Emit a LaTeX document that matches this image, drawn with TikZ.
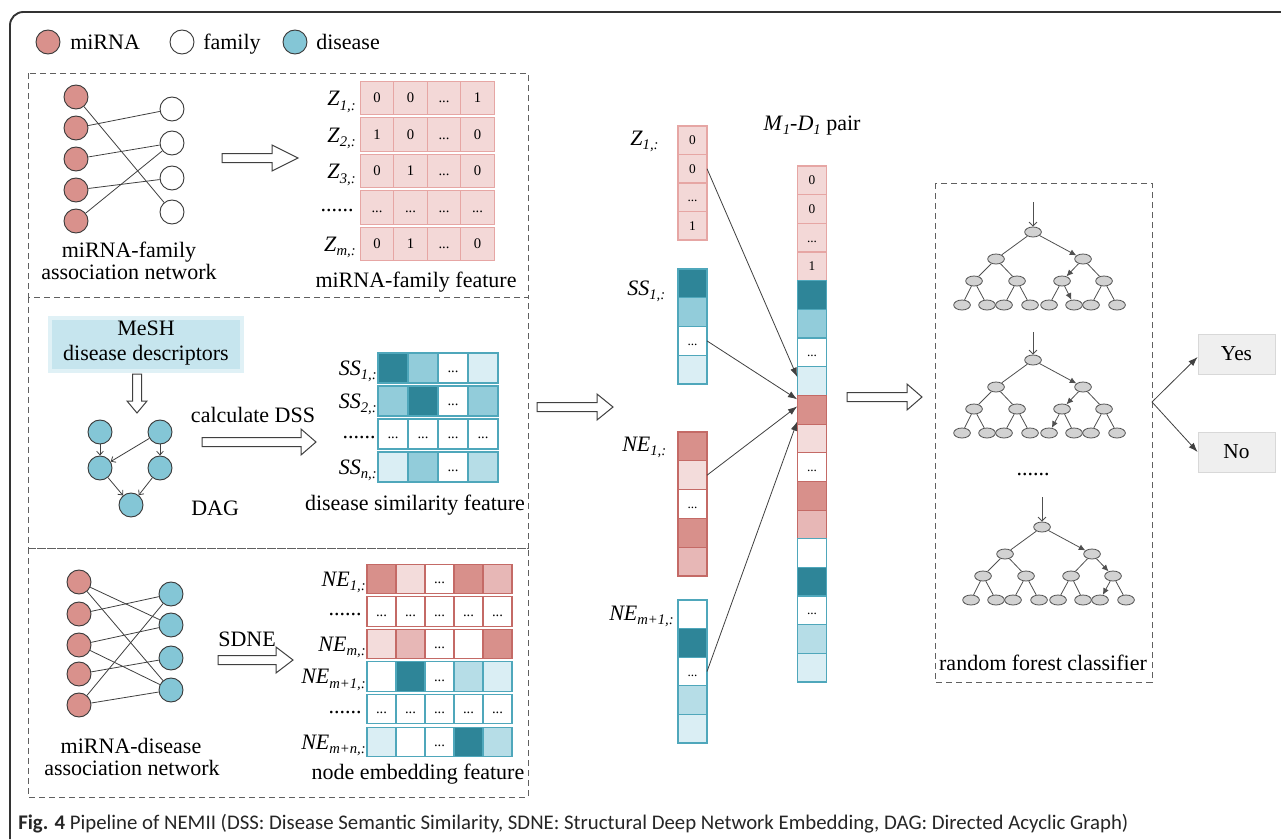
\documentclass[tikz,border=0pt]{standalone}
\usepackage{fontspec}
\setmainfont{Liberation Serif}
\newfontfamily\capfont{Carlito}
\usetikzlibrary{arrows.meta,shapes.geometric}

% palette
\definecolor{framecol}{HTML}{333333}
\definecolor{dashcol}{HTML}{606060}
\definecolor{netline}{HTML}{404040}
\definecolor{ringcol}{HTML}{3A3A3A}
\definecolor{mired}{HTML}{D9918C}
\definecolor{disblue}{HTML}{84C6D6}
\definecolor{zfill}{HTML}{F3D8D7}
\definecolor{zline}{HTML}{E6A6A4}
\definecolor{rdark}{HTML}{D8908B}
\definecolor{rmid}{HTML}{E7B7B6}
\definecolor{rlight}{HTML}{F3DCDB}
\definecolor{rline}{HTML}{C46A66}
\definecolor{tdark}{HTML}{2E8598}
\definecolor{tmid}{HTML}{92CCDA}
\definecolor{tsoft}{HTML}{B6DDE7}
\definecolor{tlight}{HTML}{DAEEF4}
\definecolor{tline}{HTML}{4FA7BB}
\definecolor{meshfill}{HTML}{C6E5EE}
\definecolor{leafgray}{HTML}{D2D2D2}
\definecolor{treeline}{HTML}{505050}
\definecolor{boxgray}{HTML}{EFEFEF}
\definecolor{boxline}{HTML}{D8D8D8}

% italic label with italic subscript
\newcommand{\lbl}[2]{\textit{#1}\raisebox{-0.45ex}{\fontsize{11}{11}\selectfont\textit{#2}}}
% three dots inside a cell (kept out of the loop lists)
\newcommand{\celldots}{...}

% a row of cells: name, x of first centre, y, width, height, border, extra style, fill/text list
\newcommand{\hrow}[8]{%
  \foreach \cellfill/\celltext [count=\ci] in {#8}{%
    \node[cell,#7,draw=#6,fill=\cellfill,minimum width=#4*0.75pt,minimum height=#5*0.75pt]
      (#1-\ci) at ({#2+(\ci-1)*#4},#3) {\celltext};
  }%
}
% a column of cells: name, x, y of first centre, width, height, border, extra style, fill/text list
\newcommand{\vcol}[8]{%
  \foreach \cellfill/\celltext [count=\ci] in {#8}{%
    \node[cell,#7,draw=#6,fill=\cellfill,minimum width=#4*0.75pt,minimum height=#5*0.75pt]
      (#1-\ci) at (#2,{#3+(\ci-1)*#5}) {\celltext};
  }%
}
% outlined block arrows
\newcommand{\hollowright}[4]{%
  \draw[hollow] (#1,{#3-4.5}) -- ({#2-#4},{#3-4.5}) -- ({#2-#4},{#3-13}) -- (#2,#3)
    -- ({#2-#4},{#3+13}) -- ({#2-#4},{#3+4.5}) -- (#1,{#3+4.5}) -- cycle;}
\newcommand{\hollowdown}[4]{%
  \draw[hollow] ({#1-4.5},#2) -- ({#1-4.5},{#3-#4}) -- ({#1-10},{#3-#4}) -- (#1,#3)
    -- ({#1+10},{#3-#4}) -- ({#1+4.5},{#3-#4}) -- ({#1+4.5},#2) -- cycle;}
% decision tree: prefix, root x, root y, styles of r-b, b-ba, b-bb, ba-l5, ba-l6, bb-l7
\newcommand{\rftree}[9]{%
  \node[tnode] (#1r) at (#2,#3) {};
  \node[tnode] (#1a) at ({#2-37},{#3+27}) {};
  \node[tnode] (#1b) at ({#2+50},{#3+27}) {};
  \node[tnode] (#1aa) at ({#2-59},{#3+49}) {};
  \node[tnode] (#1ab) at ({#2-16},{#3+49}) {};
  \node[tnode] (#1ba) at ({#2+29},{#3+49}) {};
  \node[tnode] (#1bb) at ({#2+71},{#3+49}) {};
  \foreach \lx [count=\li] in {-71,-46,-29,-3,16,41,58,84}
    \node[tnode] (#1l\li) at ({#2+(\lx)},{#3+73}) {};
  \draw[tedge] (#1r) -- (#1a);
  \draw[#4] (#1r) -- (#1b);
  \draw[tedge] (#1a) -- (#1aa);
  \draw[tedge] (#1a) -- (#1ab);
  \draw[#5] (#1b) -- (#1ba);
  \draw[#6] (#1b) -- (#1bb);
  \draw[tedge] (#1aa) -- (#1l1);
  \draw[tedge] (#1aa) -- (#1l2);
  \draw[tedge] (#1ab) -- (#1l3);
  \draw[tedge] (#1ab) -- (#1l4);
  \draw[#7] (#1ba) -- (#1l5);
  \draw[#8] (#1ba) -- (#1l6);
  \draw[#9] (#1bb) -- (#1l7);
  \draw[tedge] (#1bb) -- (#1l8);
}

\tikzset{
  txt/.style={font=\fontsize{16.5}{19}\selectfont, inner sep=0pt},
  net/.style={draw=netline, line width=0.6pt},
  mnode/.style={circle, draw=ringcol, line width=0.7pt, fill=mired, minimum size=18pt, inner sep=0pt},
  fnode/.style={mnode, fill=white},
  dnode/.style={mnode, fill=disblue},
  dagarrow/.style={draw=netline, line width=0.6pt, -{Straight Barb[length=2.8pt,width=5pt]}},
  dashbox/.style={draw=dashcol, line width=0.75pt, dash pattern=on 4.5pt off 3pt},
  hollow/.style={draw=netline, line width=0.75pt, fill=white, line join=miter},
  cell/.style={rectangle, inner sep=0pt, outer sep=0pt, line width=0.8pt},
  mcell/.style={font=\fontsize{11}{11}\selectfont, text height=7.4pt, text depth=0pt},
  ccell/.style={font=\fontsize{10}{10}\selectfont, text height=6.8pt, text depth=0pt},
  pairarrow/.style={draw=netline, line width=0.6pt, -{Latex[length=7pt,width=5pt]}},
  tnode/.style={ellipse, draw=treeline, line width=0.6pt, fill=leafgray, minimum width=12.5pt, minimum height=7.5pt, inner sep=0pt},
  tedge/.style={draw=treeline, line width=0.6pt},
  tarr/.style={tedge, -{Latex[length=5pt,width=4.5pt]}},
  rootin/.style={draw=treeline, line width=0.6pt, -{Straight Barb[length=3pt,width=6pt]}},
  answer/.style={rectangle, fill=boxgray, draw=boxline, line width=0.6pt, minimum width=57.75pt, minimum height=30pt, font=\fontsize{16}{19}\selectfont},
}

\begin{document}
\begin{tikzpicture}[x=0.75pt,y=-0.75pt]
\fill[white] (0,0) rectangle (1281,839);
\useasboundingbox (0,0) rectangle (1281,839);

% outer frame
\draw[framecol, line width=1.4pt, rounded corners=10pt] (10,839) -- (10,12) -- (1281,12);

% legend
\node[mnode] (lgm) at (48,42) {};
\node[txt, anchor=base west] (lgmt) at (70,49) {miRNA};
\node[fnode] (lgf) at (182,42) {};
\node[txt, anchor=base west] (lgft) at (203,49) {family};
\node[dnode] (lgd) at (295,42) {};
\node[txt, anchor=base west] (lgdt) at (316,49) {disease};

% ---------- miRNA-family part ----------
\draw[dashbox] (28,73) rectangle (528,297);
\foreach \y [count=\i] in {97,128,159,190,221} \node[mnode] (fm\i) at (76,\y) {};
\foreach \y [count=\i] in {109,143,178,212} \node[fnode] (ff\i) at (172,\y) {};
\draw[net] (fm1) -- (ff4);
\draw[net] (fm2) -- (ff1);
\draw[net] (fm3) -- (ff2);
\draw[net] (fm4) -- (ff3);
\draw[net] (fm5) -- (ff2);
\node[txt, anchor=base] (fnet1) at (129,257) {miRNA-family};
\node[txt, anchor=base] (fnet2) at (129,279) {association network};
\hollowright{222}{298}{158}{26}

\node[txt, anchor=base east] (zl1) at (356,105.5) {\lbl{Z}{1,:}};
\node[txt, anchor=base east] (zl2) at (356,142) {\lbl{Z}{2,:}};
\node[txt, anchor=base east] (zl3) at (356,178.5) {\lbl{Z}{3,:}};
\node[txt, anchor=base east] (zl4) at (354,211) {......};
\node[txt, anchor=base east] (zl5) at (356,251) {\lbl{Z}{m,:}};
\hrow{zr1}{377}{98}{33.5}{33.5}{zline}{mcell}{zfill/0,zfill/0,zfill/\celldots,zfill/1}
\hrow{zr2}{377}{134.5}{33.5}{33.5}{zline}{mcell}{zfill/1,zfill/0,zfill/\celldots,zfill/0}
\hrow{zr3}{377}{171}{33.5}{33.5}{zline}{mcell}{zfill/0,zfill/1,zfill/\celldots,zfill/0}
\hrow{zr4}{377}{207.5}{33.5}{33.5}{zline}{mcell}{zfill/\celldots,zfill/\celldots,zfill/\celldots,zfill/\celldots}
\hrow{zr5}{377}{244}{33.5}{33.5}{zline}{mcell}{zfill/0,zfill/1,zfill/\celldots,zfill/0}
\node[txt, anchor=base] (zfeat) at (416,287) {miRNA-family feature};

% ---------- disease similarity part ----------
\draw[dashbox] (28,297) rectangle (528,548);
\fill[meshfill!55] (48,316) rectangle (244,373);
\node[fill=meshfill, inner sep=0pt, minimum width=141pt, minimum height=36.75pt] (mesh) at (146,344.5) {};
\node[txt, anchor=base] (mesh1) at (146,335) {MeSH};
\node[txt, anchor=base] (mesh2) at (146,360) {disease descriptors};
\hollowdown{137}{374}{413}{12}

\node[dnode] (dg1) at (100,432) {};
\node[dnode] (dg2) at (160,432) {};
\node[dnode] (dg3) at (100,468) {};
\node[dnode] (dg4) at (160,468) {};
\node[dnode] (dg5) at (131,505) {};
\draw[dagarrow] (dg1) -- (dg3);
\draw[dagarrow] (dg2) -- (dg4);
\draw[dagarrow] (dg2) -- (dg3);
\draw[dagarrow] (dg3) -- (dg5);
\draw[dagarrow] (dg4) -- (dg5);
\node[txt, anchor=base west] (dagl) at (191,515) {DAG};

\node[txt, anchor=base] (dssl) at (253,422) {calculate DSS};
\hollowright{202}{316}{442}{15}

\node[txt, anchor=base east] (sl1) at (377,375) {\lbl{SS}{1,:}};
\node[txt, anchor=base east] (sl2) at (377,408) {\lbl{SS}{2,:}};
\node[txt, anchor=base east] (sl3) at (376,438) {......};
\node[txt, anchor=base east] (sl4) at (377,474) {\lbl{SS}{n,:}};
\hrow{sr1}{393}{368}{30}{30}{tline}{mcell}{tdark/{},tmid/{},white/\celldots,tlight/{}}
\hrow{sr2}{393}{401}{30}{30}{tline}{mcell}{tmid/{},tdark/{},white/\celldots,tmid/{}}
\hrow{sr3}{393}{434}{30}{30}{tline}{mcell}{white/\celldots,white/\celldots,white/\celldots,white/\celldots}
\hrow{sr4}{393}{467}{30}{30}{tline}{mcell}{tlight/{},tmid/{},white/\celldots,tsoft/{}}
\node[txt, anchor=base] (sfeat) at (415,510) {disease similarity feature};

% ---------- node embedding part ----------
\draw[dashbox] (28,548) rectangle (528,797);
\foreach \y [count=\i] in {582,614,645,674,705} \node[mnode] (em\i) at (79,\y) {};
\foreach \y [count=\i] in {594,625,658,690} \node[dnode] (ed\i) at (171,\y) {};
\draw[net] (em1) -- (ed2);
\draw[net] (em1) -- (ed4);
\draw[net] (em2) -- (ed1);
\draw[net] (em3) -- (ed2);
\draw[net] (em3) -- (ed4);
\draw[net] (em4) -- (ed3);
\draw[net] (em5) -- (ed1);
\draw[net] (em5) -- (ed4);
\node[txt, anchor=base] (dnet1) at (131,753) {miRNA-disease};
\node[txt, anchor=base] (dnet2) at (132,775) {association network};

\node[txt, anchor=base] (sdne) at (247,646) {SDNE};
\hollowright{218}{293}{660}{17}

\node[txt, anchor=base east] (nl1) at (366,586) {\lbl{NE}{1,:}};
\node[txt, anchor=base east] (nl2) at (362,615) {......};
\node[txt, anchor=base east] (nl3) at (366,651) {\lbl{NE}{m,:}};
\node[txt, anchor=base east] (nl4) at (366,683.5) {\lbl{NE}{m+1,:}};
\node[txt, anchor=base east] (nl5) at (362,713) {......};
\node[txt, anchor=base east] (nl6) at (366,749) {\lbl{NE}{m+n,:}};
\hrow{nr1}{381.5}{579}{29}{29.5}{rline}{mcell}{rdark/{},rlight/{},white/\celldots,rdark/{},rmid/{}}
\hrow{nr2}{381.5}{611.5}{29}{29.5}{rline}{mcell}{white/\celldots,white/\celldots,white/\celldots,white/\celldots,white/\celldots}
\hrow{nr3}{381.5}{644}{29}{29.5}{rline}{mcell}{rlight/{},rmid/{},white/\celldots,white/{},rdark/{}}
\hrow{nr4}{381.5}{676.5}{29}{29.5}{tline}{mcell}{white/{},tdark/{},white/\celldots,tsoft/{},tlight/{}}
\hrow{nr5}{381.5}{709}{29}{29.5}{tline}{mcell}{white/\celldots,white/\celldots,white/\celldots,white/\celldots,white/\celldots}
\hrow{nr6}{381.5}{742}{29}{29.5}{tline}{mcell}{tlight/{},white/{},white/\celldots,tdark/{},tsoft/{}}
\node[txt, anchor=base] (nfeat) at (418,779) {node embedding feature};

% ---------- feature concatenation ----------
\hollowright{537}{613}{407}{16}

\node[txt, anchor=base west] (zcl) at (630,145) {\lbl{Z}{1,:}};
\node[txt, anchor=base west] (scl) at (627,295) {\lbl{SS}{1,:}};
\node[txt, anchor=base west] (ncl) at (622,451) {\lbl{NE}{1,:}};
\node[txt, anchor=base west] (mcl) at (609,620) {\lbl{NE}{m+1,:}};
\vcol{zc}{692.5}{140.25}{29}{28.5}{zline}{ccell}{zfill/0,zfill/0,zfill/\celldots,zfill/1}
\vcol{sc}{692.5}{283.4}{29}{28.75}{tline}{ccell}{tdark/{},tmid/{},white/\celldots,tlight/{}}
\vcol{nc}{692.5}{446.4}{29}{28.8}{rline}{ccell}{rdark/{},rlight/{},white/\celldots,rdark/{},rmid/{}}
\vcol{mc}{692.5}{614.3}{29}{28.6}{tline}{ccell}{white/{},tdark/{},white/\celldots,tsoft/{},tlight/{}}

\node[txt, anchor=base] (pairl) at (812,130) {\lbl{M}{1}-\lbl{D}{1} pair};
\vcol{pz}{812}{180.33}{29.5}{28.67}{zline}{ccell}{zfill/0,zfill/0,zfill/\celldots,zfill/1}
\vcol{ps}{812}{295.0}{29.5}{28.67}{tline}{ccell}{tdark/{},tmid/{},white/\celldots,tlight/{}}
\vcol{pn}{812}{409.7}{29.5}{28.67}{rline}{ccell}{rdark/{},rlight/{},white/\celldots,rdark/{},rmid/{}}
\vcol{pm}{812}{553.0}{29.5}{28.67}{tline}{ccell}{white/{},tdark/{},white/\celldots,tsoft/{},tlight/{}}

\draw[pairarrow] (zc-2.east) -- ([yshift=3pt]ps-4.west);
\draw[pairarrow] (sc-3.east) -- ([yshift=-3pt]ps-4.south west);
\draw[pairarrow] (nc-2.east) -- ([yshift=2.5pt]pn-1.west);
\draw[pairarrow] (mc-3.east) -- ([yshift=2pt]pn-1.south west);

\hollowright{847}{922}{397}{15}

% ---------- random forest ----------
\draw[dashbox] (935,183) rectangle (1152,682);
\rftree{ta}{1033}{232}{tarr}{tarr}{tedge}{tedge}{tarr}{tedge}
\rftree{tb}{1033}{360}{tarr}{tarr}{tedge}{tarr}{tedge}{tedge}
\rftree{tc}{1042}{527}{tarr}{tedge}{tarr}{tedge}{tedge}{tarr}
\coordinate (tain) at (1033,202);
\coordinate (tbin) at (1033,332);
\coordinate (tcin) at (1042,497);
\draw[rootin] (tain) -- (tar);
\draw[rootin] (tbin) -- (tbr);
\draw[rootin] (tcin) -- (tcr);
\node[txt, anchor=base] (tdots) at (1033,475) {......};
\node[txt, anchor=base] (rfl) at (1043,670) {random forest classifier};

\node[answer] (yes) at (1236.5,354) {Yes};
\node[answer] (no) at (1236.5,452) {No};
\coordinate (split) at (1152,402);
\draw[pairarrow] (split) -- ([yshift=-2.25pt]yes.west);
\draw[pairarrow] (split) -- (no.west);

% caption
\node[anchor=base west, inner sep=0pt, text=black!85, font=\capfont\fontsize{15.6}{17}\selectfont] (cap) at (18,829)
  {\textbf{Fig. 4} Pipeline of NEMII (DSS: Disease Semantic Similarity, SDNE: Structural Deep Network Embedding, DAG: Directed Acyclic Graph)};
\end{tikzpicture}
\end{document}
